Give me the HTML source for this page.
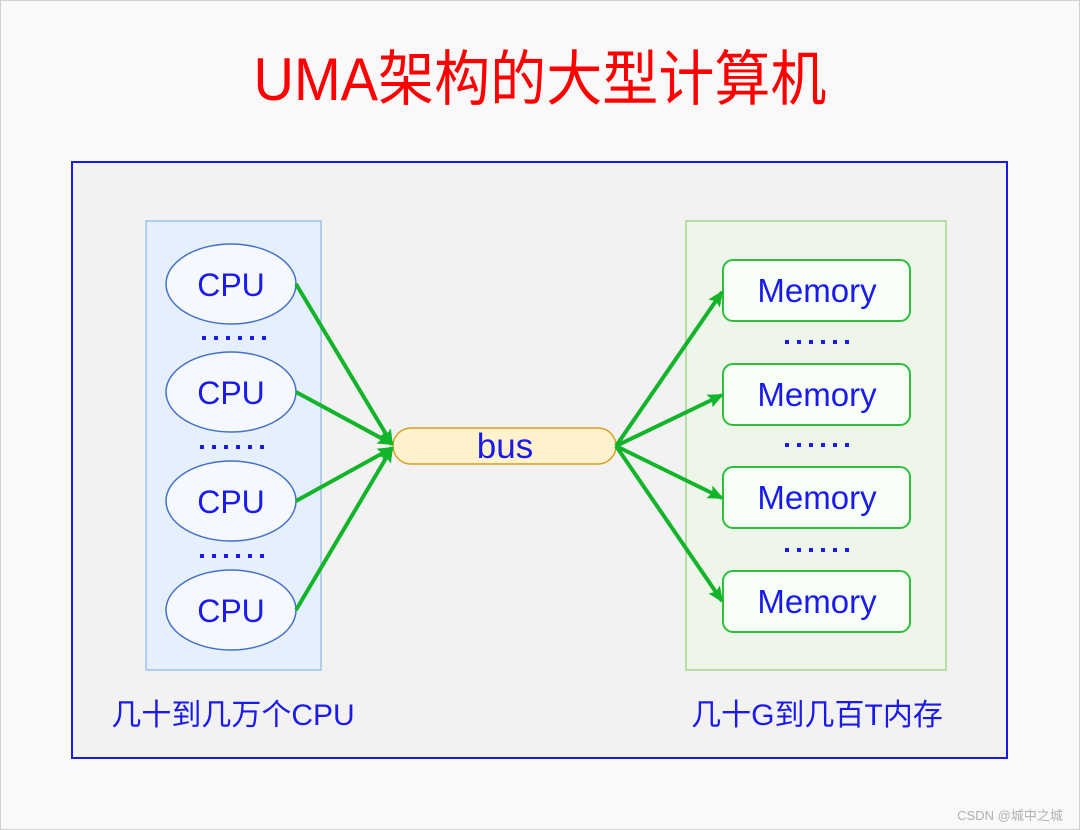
<!DOCTYPE html>
<html><head><meta charset="utf-8"><style>
html,body{margin:0;padding:0;background:#f9f9f9;}
svg{display:block;}
text{font-family:"Liberation Sans","Noto Sans CJK SC",sans-serif;}
</style></head><body>
<svg width="1080" height="830" viewBox="0 0 1080 830" xmlns="http://www.w3.org/2000/svg">
<defs>
<marker id="ah" markerWidth="18" markerHeight="14" refX="14" refY="7" orient="auto" markerUnits="userSpaceOnUse">
<path d="M0,0 L16,7 L0,14 L3,7 Z" fill="#12b52a"/>
</marker>
<g id="dots" fill="#1a1aee">
<rect x="0" y="0" width="4" height="4"/><rect x="12" y="0" width="4" height="4"/><rect x="24" y="0" width="4" height="4"/><rect x="36" y="0" width="4" height="4"/><rect x="48" y="0" width="4" height="4"/><rect x="60" y="0" width="4" height="4"/>
</g>
</defs>
<rect x="0.5" y="0.5" width="1079" height="829" fill="#f9f9f9" stroke="#d0d0d0"/>
<text x="540" y="100" font-size="60" fill="#ff0000" text-anchor="middle" textLength="573" lengthAdjust="spacingAndGlyphs">UMA架构的大型计算机</text>
<rect x="72" y="162" width="935" height="596" fill="#f2f2f2" stroke="#1a1aee" stroke-width="2"/>
<rect x="146" y="221" width="175" height="449" fill="#e6f0fd" stroke="#9fc1e8" stroke-width="1.5"/>
<rect x="686" y="221" width="260" height="449" fill="#eef6ea" stroke="#a6d58f" stroke-width="1.5"/>
<g fill="#f5f9ff" stroke="#4470c8" stroke-width="1.5">
<ellipse cx="231" cy="284" rx="65" ry="40"/>
<ellipse cx="231" cy="392" rx="65" ry="40"/>
<ellipse cx="231" cy="501" rx="65" ry="40"/>
<ellipse cx="231" cy="610" rx="65" ry="40"/>
</g>
<g font-size="32" fill="#1a1aee" text-anchor="middle">
<text x="231" y="296">CPU</text>
<text x="231" y="404">CPU</text>
<text x="231" y="513">CPU</text>
<text x="231" y="622">CPU</text>
</g>
<use href="#dots" x="202" y="336"/>
<use href="#dots" x="200" y="445"/>
<use href="#dots" x="200" y="554"/>
<use href="#dots" x="785" y="340"/>
<use href="#dots" x="785" y="443"/>
<use href="#dots" x="785" y="548"/>
<g fill="#f7fff7" stroke="#2ec03c" stroke-width="2">
<rect x="723" y="260" width="187" height="61" rx="10"/>
<rect x="723" y="364" width="187" height="61" rx="10"/>
<rect x="723" y="467" width="187" height="61" rx="10"/>
<rect x="723" y="571" width="187" height="61" rx="10"/>
</g>
<g font-size="33" fill="#1a1aee" text-anchor="middle">
<text x="817" y="302">Memory</text>
<text x="817" y="406">Memory</text>
<text x="817" y="509">Memory</text>
<text x="817" y="613">Memory</text>
</g>
<rect x="393" y="428" width="223" height="36" rx="18" fill="#fff2cc" stroke="#d6a020" stroke-width="1.5"/>
<text x="505" y="458" font-size="35" fill="#1a1aee" text-anchor="middle">bus</text>
<g stroke="#12b52a" stroke-width="4" marker-end="url(#ah)" fill="none">
<line x1="296" y1="284" x2="392" y2="444"/>
<line x1="296" y1="392" x2="392" y2="444"/>
<line x1="296" y1="501" x2="392" y2="448"/>
<line x1="296" y1="610" x2="392" y2="448"/>
<line x1="616" y1="446" x2="722" y2="292"/>
<line x1="616" y1="446" x2="722" y2="395"/>
<line x1="616" y1="446" x2="722" y2="498"/>
<line x1="616" y1="446" x2="722" y2="601"/>
</g>
<g font-size="30" fill="#1a1aee" text-anchor="middle">
<text x="233" y="725">几十到几万个CPU</text>
<text x="817" y="725">几十G到几百T内存</text>
</g>
<text x="1010" y="820" font-size="13" fill="#b0b0b0" text-anchor="middle">CSDN @城中之城</text>
</svg>
</body></html>
